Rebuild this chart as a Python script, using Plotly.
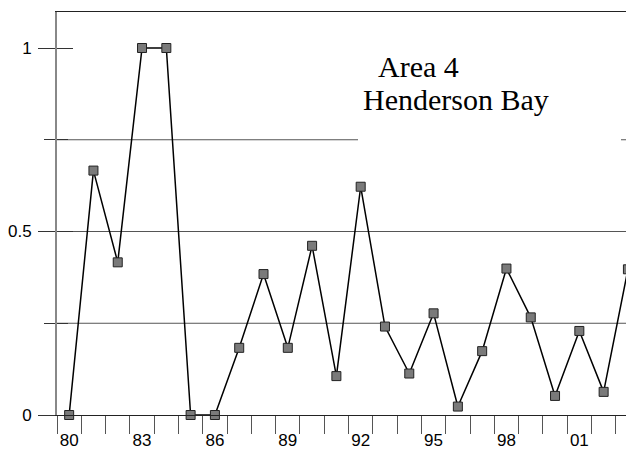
import plotly.graph_objects as go

years = list(range(1980, 2004))
values = [0.0, 0.666, 0.416, 1.0, 1.0, 0.0, 0.0, 0.183, 0.384, 0.183, 0.461, 0.106,
          0.622, 0.241, 0.113, 0.277, 0.023, 0.174, 0.399, 0.266, 0.052, 0.229, 0.063, 0.397]
xtick_vals = [1980, 1983, 1986, 1989, 1992, 1995, 1998, 2001]
xtick_text = ["80", "83", "86", "89", "92", "95", "98", "01"]
ytick_vals = [0, 0.5, 1]
ytick_text = ["0", "0.5", "1"]
grid_vals = [0.25, 0.5, 0.75]
minor_y = [0.25, 0.75]
title_lines = ["Area 4", "Henderson Bay"]

# page body has an 8px margin; figure is offset by it
OFF = 8
W, H = 634 - OFF, 451 - OFF
L, R, T, B = 57 - OFF, 0, 12 - OFF, 36
pw, ph = W - L - R, H - T - B

fig = go.Figure()
fig.add_trace(go.Scatter(
    x=years, y=values, mode="lines+markers",
    line=dict(color="black", width=1.5),
    marker=dict(symbol="square", size=9, color="#7a7a7a",
                line=dict(color="#222222", width=1)),
    showlegend=False, cliponaxis=False,
))
fig.add_trace(go.Scatter(x=[years[0]], y=[0], yaxis="y2", mode="markers",
                         marker=dict(opacity=0), showlegend=False, hoverinfo="skip"))

def px2x(p):
    return (p - 57) / pw

def py2y(p):
    return (415 - p) / ph

shapes = []
for g in grid_vals:
    shapes.append(dict(type="line", xref="paper", yref="y", x0=0, x1=1, y0=g, y1=g,
                       line=dict(color="#555555", width=1), layer="below"))
shapes.append(dict(type="rect", xref="paper", yref="y", x0=px2x(358), x1=px2x(621),
                   y0=0.70, y1=1.06, fillcolor="white", line=dict(width=0), layer="below"))

fig.update_layout(
    width=W, height=H,
    margin=dict(l=L, r=R, t=T, b=B, pad=0, autoexpand=False),
    paper_bgcolor="white", plot_bgcolor="white",
    font=dict(family="Liberation Sans, Arial, sans-serif", size=17, color="black"),
    shapes=shapes,
    xaxis=dict(
        range=[1979.5, 2003.25], showgrid=False, zeroline=False, automargin=False,
        showline=True, linecolor="#222222", linewidth=1, mirror=True,
        tickmode="array", tickvals=xtick_vals, ticktext=xtick_text,
        tickfont=dict(size=17),
        ticks="outside", ticklen=10, tickcolor="rgba(0,0,0,0)",
        minor=dict(tickmode="array", tickvals=[y + 0.5 for y in range(1979, 2004)],
                   ticks="outside", ticklen=18, tickcolor="#555555", tickwidth=1, showgrid=False),
    ),
    yaxis=dict(
        range=[0, 1.0981], showgrid=False, zeroline=False, automargin=False,
        showline=True, linecolor="#888888", linewidth=2,
        tickmode="array", tickvals=ytick_vals, ticktext=ytick_text,
        tickfont=dict(size=17),
        ticks="outside", ticklen=17, tickcolor="#333333", tickwidth=1,
        ticklabelstandoff=3,
        minor=dict(tickmode="array", tickvals=minor_y, ticks="outside", ticklen=11,
                   tickcolor="#333333", tickwidth=1, showgrid=False),
    ),
    yaxis2=dict(
        range=[0, 1.0981], overlaying="y", side="left", showgrid=False, zeroline=False,
        automargin=False,
        showline=False, tickmode="array", tickvals=ytick_vals, showticklabels=False,
        ticks="inside", ticklen=16, tickcolor="#333333", tickwidth=1,
        minor=dict(tickmode="array", tickvals=minor_y, ticks="inside", ticklen=11,
                   tickcolor="#333333", tickwidth=1, showgrid=False),
    ),
    annotations=[
        dict(text=title_lines[0], xref="paper", yref="paper", x=px2x(376), y=py2y(67),
             xanchor="left", yanchor="middle", showarrow=False,
             font=dict(family="Liberation Serif, Times New Roman, serif", size=30, color="black")),
        dict(text=title_lines[1], xref="paper", yref="paper", x=px2x(361), y=py2y(100),
             xanchor="left", yanchor="middle", showarrow=False,
             font=dict(family="Liberation Serif, Times New Roman, serif", size=30, color="black")),
    ],
)
fig.write_html("out.html")
